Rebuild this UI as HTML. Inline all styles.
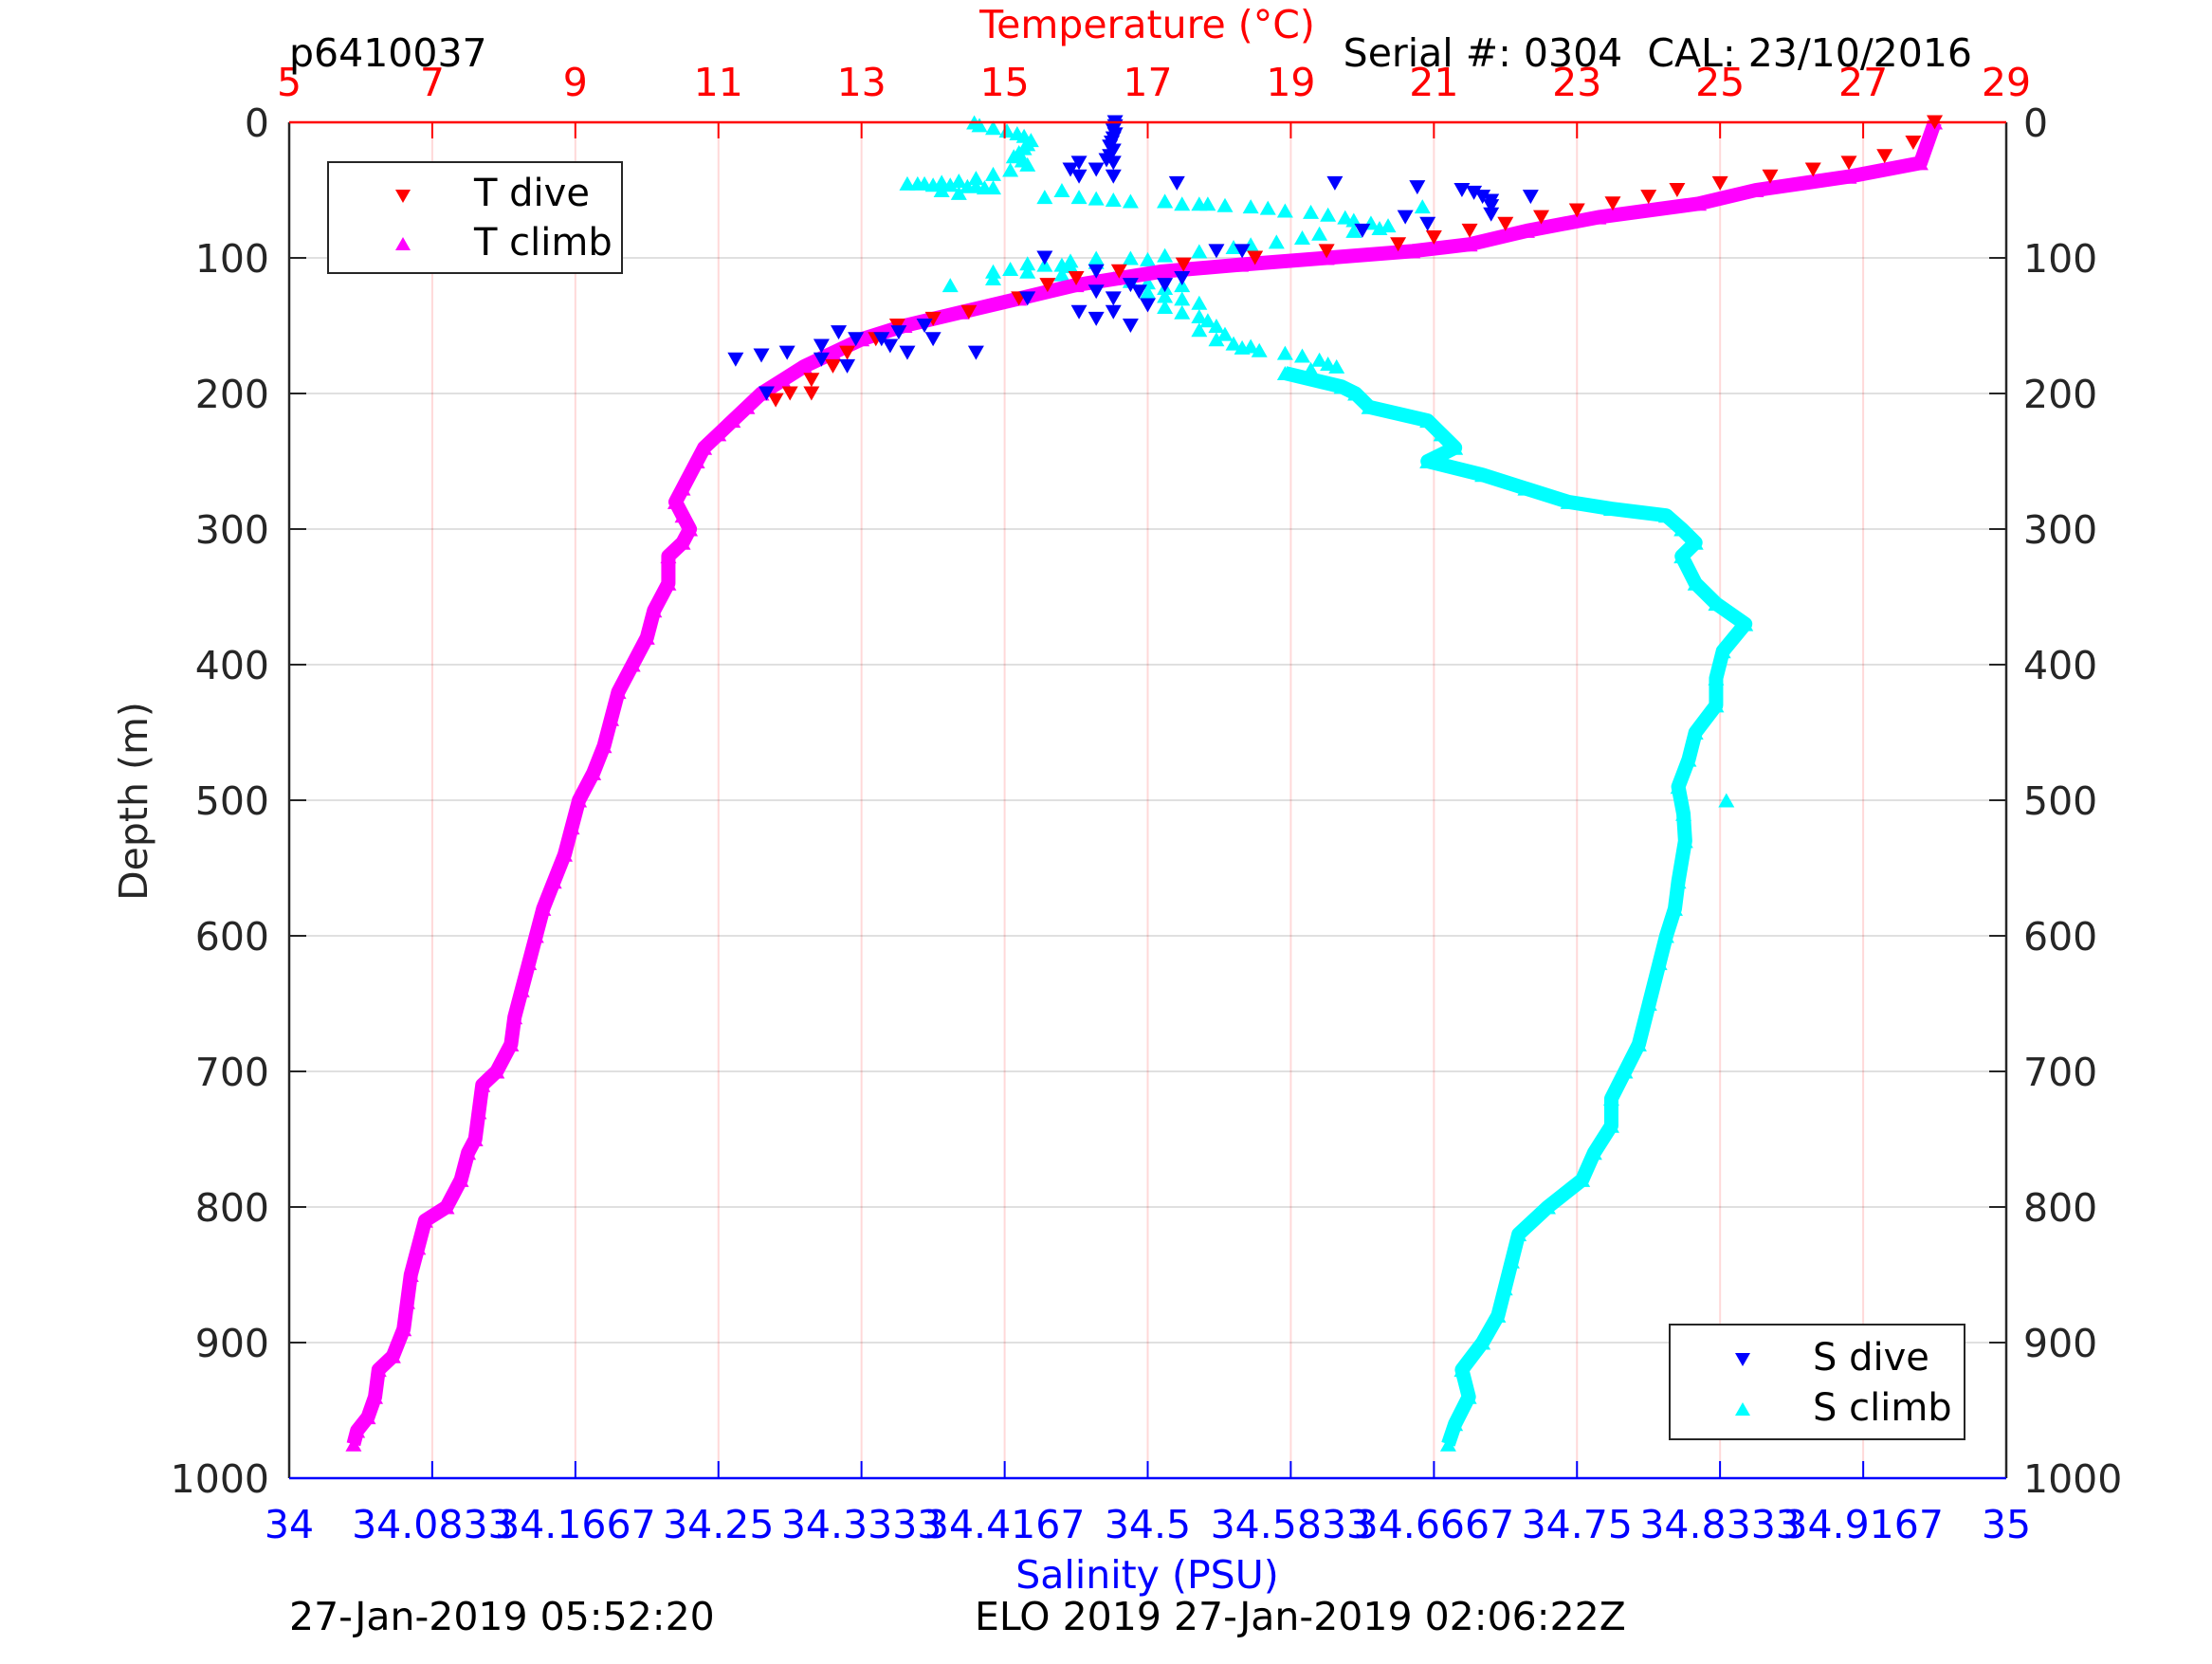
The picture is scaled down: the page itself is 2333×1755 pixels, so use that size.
<!DOCTYPE html>
<html><head><meta charset="utf-8"><style>
body{margin:0;background:#fff;}
svg text{font-family:"DejaVu Sans","Liberation Sans",sans-serif;white-space:pre;}
</style></head><body>
<svg id="chart" width="2333" height="1750" viewBox="0 0 2333 1750" xmlns="http://www.w3.org/2000/svg">
<rect width="2333" height="1750" fill="#fff"/>
<g id="grid"></g>
<g id="series"></g>
<g id="axes"></g>
<text x="305" y="70" font-size="41" fill="#000">p6410037</text>
<text x="1210" y="40" font-size="41" fill="#f00" text-anchor="middle">Temperature (°C)</text>
<text x="2080" y="70" font-size="41" fill="#000" text-anchor="end" xml:space="preserve">Serial #: 0304  CAL: 23/10/2016</text>
<text x="1210" y="1675" font-size="41" fill="#00f" text-anchor="middle">Salinity (PSU)</text>
<text transform="translate(155,845) rotate(-90)" font-size="41" fill="#262626" text-anchor="middle">Depth (m)</text>
<text x="305" y="1719" font-size="41" fill="#000">27-Jan-2019 05:52:20</text>
<text x="1028" y="1719" font-size="41" fill="#000">ELO 2019 27-Jan-2019 02:06:22Z</text>
<g>
<rect x="346" y="171" width="310" height="117" fill="#fff" stroke="#262626" stroke-width="2"/>
<path d="M417 200 L433 200 L425 214 Z" fill="#f00"/>
<text x="500" y="217" font-size="40" fill="#000">T dive</text>
<path d="M417 264 L433 264 L425 250 Z" fill="#f0f"/>
<text x="500" y="269" font-size="40" fill="#000">T climb</text>
</g>
<g>
<rect x="1761" y="1397" width="311" height="121" fill="#fff" stroke="#262626" stroke-width="2"/>
<path d="M1830 1427 L1846 1427 L1838 1441 Z" fill="#00f"/>
<text x="1912" y="1445" font-size="40" fill="#000">S dive</text>
<path d="M1830 1493 L1846 1493 L1838 1479 Z" fill="#0ff"/>
<text x="1912" y="1498" font-size="40" fill="#000">S climb</text>
</g>
</svg>
<script>
const depthTicks=[0,100,200,300,400,500,600,700,800,900,1000];
const tempTicks=[5,7,9,11,13,15,17,19,21,23,25,27,29];
const salTicks=[34,34.0833,34.1667,34.25,34.3333,34.4167,34.5,34.5833,34.6667,34.75,34.8333,34.9167,35];
const salTickLabels=["34","34.0833","34.1667","34.25","34.3333","34.4167","34.5","34.5833","34.6667","34.75","34.8333","34.9167","35"];
const tClimbDepth=[0,30,40,50,60,70,80,90,95,100,105,110,120,130,140,150,160,170,180,190,200,210,220,230,240,250,270,280,290,300,310,320,340,360,380,400,420,440,460,480,500,520,540,560,580,600,620,640,660,680,700,710,730,750,760,780,800,810,830,850,870,890,910,920,940,955,965,975];
const tClimbTemp=[28.0,27.8,26.8,25.5,24.7,23.3,22.3,21.5,20.7,19.5,18.3,17.2,16.0,15.2,14.4,13.6,13.0,12.6,12.2,11.9,11.6,11.4,11.2,11.0,10.8,10.7,10.5,10.4,10.5,10.6,10.5,10.3,10.3,10.1,10.0,9.8,9.6,9.5,9.4,9.25,9.05,8.95,8.85,8.7,8.55,8.45,8.35,8.25,8.15,8.1,7.9,7.7,7.65,7.6,7.5,7.4,7.2,6.9,6.8,6.7,6.65,6.6,6.45,6.25,6.2,6.1,5.95,5.9];
const tDiveDepth=[0,15,25,30,35,40,45,50,55,60,65,70,75,80,85,90,95,100,105,110,115,120,130,140,145,150,160,170,180,190,200,205,200];
const tDiveTemp=[28.0,27.7,27.3,26.8,26.3,25.7,25.0,24.4,24.0,23.5,23.0,22.5,22.0,21.5,21.0,20.5,19.5,18.5,17.5,16.6,16.0,15.6,15.2,14.5,14.0,13.5,13.2,12.8,12.6,12.3,12.0,11.8,12.3];
const sClimbDepth=[185,195,200,210,220,230,240,250,260,270,280,285,290,300,310,320,340,355,370,390,410,430,450,470,490,510,530,560,580,600,620,650,680,700,720,740,760,780,800,820,840,860,880,900,920,940,960,975];
const sClimbSal=[34.58,34.613,34.621,34.629,34.663,34.671,34.679,34.663,34.695,34.72,34.745,34.77,34.802,34.811,34.819,34.811,34.819,34.831,34.848,34.835,34.831,34.831,34.819,34.815,34.809,34.812,34.813,34.809,34.807,34.802,34.798,34.792,34.786,34.778,34.77,34.77,34.76,34.753,34.733,34.716,34.712,34.708,34.704,34.695,34.683,34.687,34.679,34.675];
const sUpperDepth=[0,2,4,6,8,10,13,16,19,22,25,28,31,35,38,41,43,44,45,45,46,46,47,47,48,48,50,52,55,55,56,57,58,58,60,60,61,62,63,65,66,68,70,72,74,76,78,80,82,85,88,90,92,95,98,100,100,101,102,103,104,105,106,108,110,110,112,114,115,117,118,120,122,125,128,130,133,136,140,143,146,150,153,156,160,163,165,166,168,170,172,175,178,180,182];
const sUpperSal=[34.399,34.402,34.41,34.418,34.424,34.428,34.432,34.43,34.428,34.425,34.422,34.427,34.43,34.42,34.41,34.4,34.39,34.38,34.37,34.366,34.375,34.385,34.395,34.40,34.405,34.41,34.38,34.39,34.44,34.46,34.47,34.48,34.49,34.51,34.52,34.535,34.545,34.56,34.57,34.58,34.595,34.605,34.615,34.62,34.63,34.64,34.635,34.62,34.6,34.59,34.575,34.56,34.55,34.53,34.51,34.47,34.49,34.50,34.455,34.47,34.43,34.44,34.455,34.42,34.41,34.43,34.45,34.47,34.48,34.49,34.50,34.52,34.51,34.50,34.51,34.52,34.53,34.51,34.52,34.53,34.535,34.54,34.53,34.545,34.54,34.55,34.56,34.555,34.565,34.58,34.59,34.60,34.605,34.61,34.595];
const sClimbExtraDepth=[500,120,115,105,60,58,62,45,50];
const sClimbExtraSal=[34.837,34.385,34.41,34.45,34.53,34.51,34.66,34.36,34.45];
const sDiveDepth=[0,3,6,9,12,15,18,21,25,28,30,35,40,35,30,40,45,45,48,50,52,55,58,62,68,55,75,70,80,95,95,100,110,120,125,130,135,140,145,150,130,120,155,160,165,170,175,165,175,172,170,180,150,160,200,155,160,170,140,125,115];
const sDiveSal=[34.481,34.481,34.48,34.481,34.48,34.479,34.478,34.48,34.478,34.476,34.48,34.47,34.48,34.455,34.46,34.46,34.517,34.609,34.657,34.683,34.69,34.695,34.7,34.7,34.7,34.723,34.663,34.65,34.625,34.54,34.555,34.44,34.47,34.49,34.47,34.48,34.5,34.46,34.47,34.49,34.43,34.51,34.32,34.33,34.35,34.36,34.31,34.31,34.26,34.275,34.29,34.325,34.37,34.375,34.278,34.355,34.345,34.4,34.48,34.495,34.52];

const L=305,R=2116,T=129,B=1559;
const yD=d=>T+(d/1000)*(B-T);
const xT=t=>L+(t-5)/24*(R-L);
const xS=s=>L+(s-34)*(R-L);
const NS="http://www.w3.org/2000/svg";
function mk(tag,attrs,parent){const e=document.createElementNS(NS,tag);for(const k in attrs)e.setAttribute(k,attrs[k]);parent.appendChild(e);return e;}
const grid=document.getElementById('grid'),series=document.getElementById('series'),axes=document.getElementById('axes');

tempTicks.forEach(t=>{const x=xT(t);
 const g=mk('line',{x1:x,x2:x,y1:T,y2:B,stroke:'#f00','stroke-opacity':0.15,'stroke-width':2},grid);
 
 
 mk('line',{x1:x,x2:x,y1:T,y2:T+17,stroke:'#f00','stroke-width':2},axes);
 const tx=mk('text',{x:x,y:101,'font-size':41,fill:'#f00','text-anchor':'middle'},axes);tx.textContent=t;
 
 
});
depthTicks.forEach(d=>{const y=yD(d);
 const g=mk('line',{x1:L,x2:R,y1:y,y2:y,stroke:'#000','stroke-opacity':0.12,'stroke-width':2},grid);
 
 
 mk('line',{x1:L,x2:L+18,y1:y,y2:y,stroke:'#262626','stroke-width':2},axes);
 mk('line',{x1:R-18,x2:R,y1:y,y2:y,stroke:'#262626','stroke-width':2},axes);
 const a=mk('text',{x:284,y:y+15,'font-size':41,fill:'#262626','text-anchor':'end'},axes);a.textContent=d;
 
 
 const b=mk('text',{x:2134,y:y+15,'font-size':41,fill:'#262626'},axes);b.textContent=d;
 
 
});
salTicks.forEach((s,i)=>{const x=xS(s);
 mk('line',{x1:x,x2:x,y1:B-18,y2:B,stroke:'#00f','stroke-width':2},axes);
 const tx=mk('text',{x:x,y:1622,'font-size':41,fill:'#00f','text-anchor':'middle'},axes);tx.textContent=salTickLabels[i];
 
 
});
mk('line',{x1:L,x2:L,y1:T,y2:B,stroke:'#262626','stroke-width':2.5},axes);
mk('line',{x1:R,x2:R,y1:T,y2:B,stroke:'#262626','stroke-width':2.5},axes);
mk('line',{x1:L,x2:R,y1:T,y2:T,stroke:'#f00','stroke-width':2.5},axes);
mk('line',{x1:L,x2:R,y1:B,y2:B,stroke:'#00f','stroke-width':2.5},axes);

function tri(x,y,down){const h=15,w=8.5;return down?`M${x-w} ${y-h/2}L${x+w} ${y-h/2}L${x} ${y+h/2}Z`:`M${x-w} ${y+h/2}L${x+w} ${y+h/2}L${x} ${y-h/2}Z`;}
function band(depths,vals,xf,color,name){
 const pts=depths.map((d,i)=>xf(vals[i])+','+yD(d)).join(' ');
 const p=mk('polyline',{points:pts,fill:'none',stroke:color,'stroke-width':15,'stroke-linejoin':'round'},series);
 
 
}
function scatter(depths,vals,xf,color,down,name){
 const g=mk('g',{},series);
 
 
 let d='';depths.forEach((dd,i)=>{d+=tri(xf(vals[i]),yD(dd),down);});
 mk('path',{d:d,fill:color},g);
}
band(sClimbDepth,sClimbSal,xS,'#0ff','s-climb-band');
scatter(sClimbDepth,sClimbSal,xS,'#0ff',false,'s-climb-points');
scatter(sUpperDepth,sUpperSal,xS,'#0ff',false,'s-climb-upper-points');
scatter(sClimbExtraDepth,sClimbExtraSal,xS,'#0ff',false,'s-climb-scatter');
band(tClimbDepth,tClimbTemp,xT,'#f0f','t-climb-band');
scatter(tClimbDepth,tClimbTemp,xT,'#f0f',false,'t-climb-points');
scatter(tDiveDepth,tDiveTemp,xT,'#f00',true,'t-dive-points');
scatter(sDiveDepth,sDiveSal,xS,'#00f',true,'s-dive-points');
</script>
</body></html>
